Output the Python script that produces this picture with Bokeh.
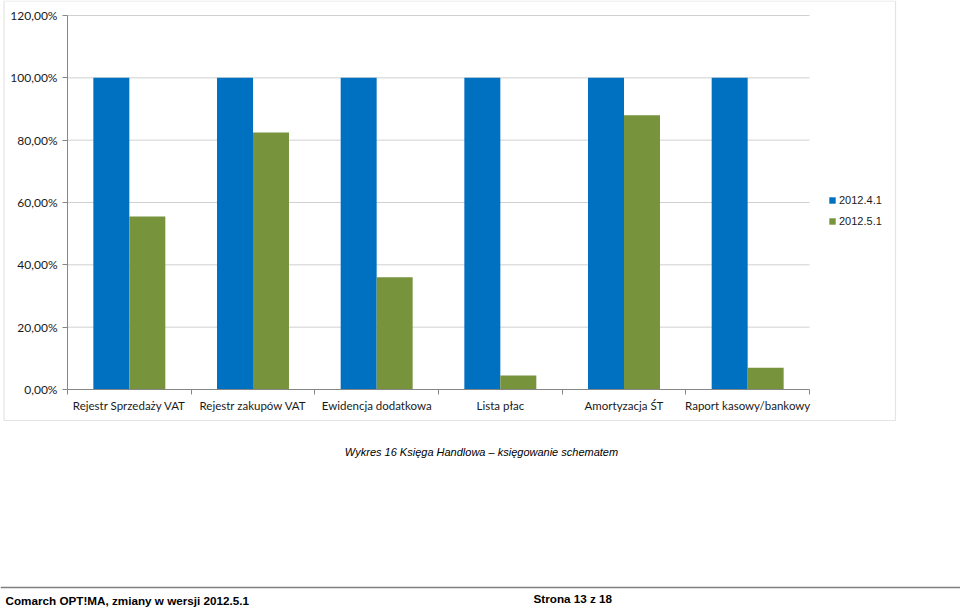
from bokeh.plotting import figure
from bokeh.models import (FixedTicker, Label, Legend, LegendItem, Range1d, LinearAxis,
                          ColumnDataSource, Span, BoxAnnotation)
from bokeh.transform import dodge
from bokeh.embed import file_html
from bokeh.resources import INLINE

# ---- data ----
categories = ["Rejestr Sprzedaży VAT", "Rejestr zakupów VAT", "Ewidencja dodatkowa",
              "Lista płac", "Amortyzacja ŚT", "Raport kasowy/bankowy"]
series_names = ["2012.4.1", "2012.5.1"]
values_2012_4_1 = [100.0, 100.0, 100.0, 100.0, 100.0, 100.0]
values_2012_5_1 = [55.5, 82.5, 36.0, 4.5, 88.0, 7.0]
y_ticks = [0, 20, 40, 60, 80, 100, 120]
y_tick_labels = ["0,00%", "20,00%", "40,00%", "60,00%", "80,00%", "100,00%", "120,00%"]
caption_text = "Wykres 16 Księga Handlowa – księgowanie schematem"
footer_left_text = "Comarch OPT!MA, zmiany w wersji 2012.5.1"
footer_right_text = "Strona 13 z 18"

BLUE = "#0070C0"
GREEN = "#77933C"
AXIS = "#868686"

W, H = 960, 607
# plot area in canvas pixels
PX0, PX1, PY_TOP, PY_BOT = 67, 809, 15, 389
n = len(categories)
y_max = y_ticks[-1]
ppx = (PX1 - PX0) / n
ppy = (PY_BOT - PY_TOP) / y_max
x_start = -PX0 / ppx
x_end = n + (W - PX1) / ppx
y_end = y_max + PY_TOP / ppy
y_start = -(H - PY_BOT) / ppy

pos = [i + 0.5 for i in range(n)]
source = ColumnDataSource(dict(x=pos, a=values_2012_4_1, b=values_2012_5_1))

p = figure(width=W, height=H, x_range=Range1d(x_start, x_end), y_range=Range1d(y_start, y_end),
           output_backend="svg", toolbar_location=None, title=None,
           x_axis_type=None, y_axis_type=None, min_border=0)
p.outline_line_color = None
p.grid.grid_line_color = None
p.background_fill_color = "white"
p.border_fill_color = "white"

# gridlines limited to the plot area
p.segment(x0=[0] * len(y_ticks), x1=[n] * len(y_ticks), y0=y_ticks, y1=y_ticks,
          line_color="#d0d0d0", line_width=1)

r1 = p.vbar(x=dodge("x", -0.1455), top="a", width=0.291, source=source,
            fill_color=BLUE, line_color=None)
r2 = p.vbar(x=dodge("x", 0.1455), top="b", width=0.291, source=source,
            fill_color=GREEN, line_color=None)

xaxis = LinearAxis(fixed_location=0, bounds=(0, n),
                   ticker=FixedTicker(ticks=pos, minor_ticks=list(range(n + 1))))
xaxis.major_label_overrides = {float(x): c for x, c in zip(pos, categories)}
xaxis.major_tick_line_color = None
xaxis.major_tick_out = 0
xaxis.major_tick_in = 0
xaxis.minor_tick_in = 0
xaxis.minor_tick_out = 5
xaxis.minor_tick_line_color = AXIS
xaxis.axis_line_color = AXIS
xaxis.major_label_standoff = 4
xaxis.major_label_text_font_size = "11.5px"
p.add_layout(xaxis, "below")

yaxis = LinearAxis(fixed_location=0, bounds=(0, y_max), ticker=FixedTicker(ticks=y_ticks))
yaxis.major_label_overrides = {t: l for t, l in zip(y_ticks, y_tick_labels)}
yaxis.major_tick_out = 5
yaxis.major_tick_in = 0
yaxis.major_tick_line_color = AXIS
yaxis.minor_tick_line_color = None
yaxis.axis_line_color = AXIS
yaxis.major_label_standoff = 5
yaxis.major_label_text_font_size = "12px"
p.add_layout(yaxis, "left")

for ax in (xaxis, yaxis):
    ax.major_label_text_font = "Lato"
    ax.major_label_text_color = "#1a1a1a"

legend = Legend(items=[LegendItem(label=series_names[0], renderers=[r1]),
                       LegendItem(label=series_names[1], renderers=[r2])],
                location=(828, H - 231), padding=0, margin=0, spacing=1,
                glyph_width=8, glyph_height=8, label_height=20, label_standoff=3,
                label_text_font="Liberation Sans", label_text_font_size="11px",
                label_text_color="#1a1a1a",
                background_fill_alpha=0, border_line_color=None)
p.add_layout(legend)

# chart border (screen px from the frame's bottom-left)
p.add_layout(BoxAnnotation(left=3.5, right=895, bottom=H - 420, top=H - 0.5,
                           left_units="screen", right_units="screen",
                           bottom_units="screen", top_units="screen",
                           fill_alpha=0, line_color="#a6a6a6", line_width=1.2))

# caption
p.add_layout(Label(x=481, y=H - 451, x_units="screen", y_units="screen", text=caption_text,
                   text_align="center", text_baseline="middle", text_font="Liberation Sans",
                   text_font_style="italic", text_font_size="11px", text_color="#000000"))

# footer
p.add_layout(Span(location=H - 587, location_units="screen", dimension="width",
                  line_color="#7f7f7f", line_width=1.5))
p.add_layout(Label(x=5, y=H - 600, x_units="screen", y_units="screen", text=footer_left_text,
                   text_align="left", text_baseline="middle", text_font="Liberation Sans",
                   text_font_style="bold", text_font_size="11.7px", text_color="#000000"))
p.add_layout(Label(x=533, y=H - 598, x_units="screen", y_units="screen", text=footer_right_text,
                   text_align="left", text_baseline="middle", text_font="Liberation Sans",
                   text_font_style="bold", text_font_size="11.7px", text_color="#000000"))

open("out.html", "w").write(file_html(p, INLINE))
